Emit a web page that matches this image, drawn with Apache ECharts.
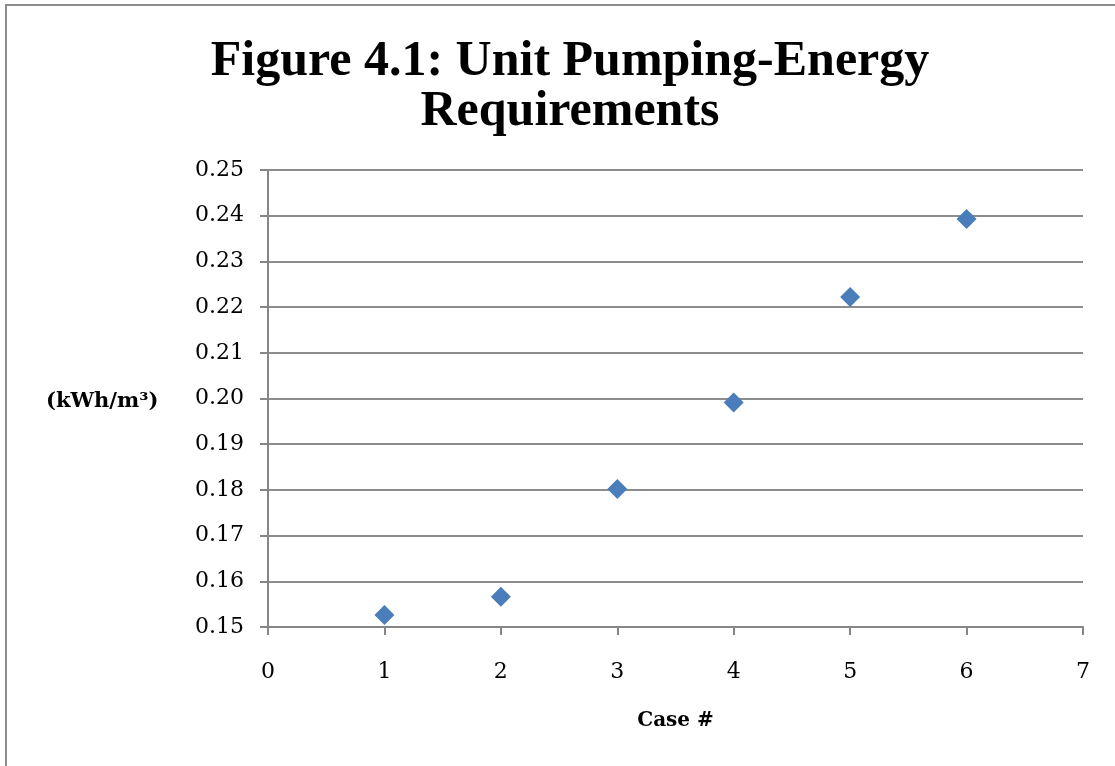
<!DOCTYPE html>
<html>
<head>
<meta charset="utf-8">
<script src="https://cdn.jsdelivr.net/npm/echarts@6/dist/echarts.min.js"></script>
<style>
  html, body { margin: 0; padding: 0; background: #fff; }
  #chart { width: 1115px; height: 766px; }
</style>
</head>
<body>
<div id="chart"></div>
<script>
// case numbers and unit pumping energy (kWh/m3)
var cases = [1, 2, 3, 4, 5, 6]
var energy = [0.1526, 0.1566, 0.1802, 0.1991, 0.2222, 0.2393]

var serif = '"DejaVu Serif", "Liberation Serif", serif'
var titleFont = '"Liberation Serif", "DejaVu Serif", serif'

var myChart = echarts.init(document.getElementById('chart'))
myChart.setOption({
  backgroundColor: '#fff',
  animation: false,
  graphic: [{
    type: 'rect',
    shape: { x: 6, y: 5, width: 1200, height: 900 },
    style: { fill: 'none', stroke: '#8c8c8c', lineWidth: 2 }
  }, {
    type: 'text',
    left: 46,
    top: 391,
    style: { text: '(kWh/m³)', font: 'bold 21px ' + serif, fill: '#000' }
  }],
  title: {
    text: 'Figure 4.1: Unit Pumping-Energy\nRequirements',
    left: 565,
    textAlign: 'center',
    top: 32,
    textStyle: { fontFamily: titleFont, fontWeight: 'bold', fontSize: 50, lineHeight: 50, color: '#000' }
  },
  grid: { left: 268, right: 32, top: 170, bottom: 139 },
  xAxis: {
    type: 'value',
    min: 0,
    max: 7,
    interval: 1,
    name: 'Case #',
    nameLocation: 'middle',
    nameGap: 84,
    nameTextStyle: { fontFamily: serif, fontWeight: 'bold', fontSize: 20, color: '#000' },
    axisLine: { show: true, lineStyle: { color: '#868686', width: 2 } },
    axisTick: { show: true, length: 8, lineStyle: { color: '#868686', width: 2 } },
    axisLabel: { fontFamily: serif, fontSize: 22, color: '#000', margin: 34 },
    splitLine: { show: false }
  },
  yAxis: {
    type: 'value',
    min: 0.15,
    max: 0.25,
    interval: 0.01,
    axisLine: { show: true, lineStyle: { color: '#868686', width: 2 } },
    axisTick: { show: true, length: 8, lineStyle: { color: '#868686', width: 2 } },
    axisLabel: {
      fontFamily: serif, fontSize: 22, color: '#000', margin: 24,
      formatter: function (v) { return v.toFixed(2) }
    },
    splitLine: { show: true, lineStyle: { color: '#8c8c8c', width: 2 } }
  },
  series: [{
    type: 'scatter',
    symbol: 'diamond',
    symbolSize: [20, 20],
    itemStyle: { color: '#4a7ebb', opacity: 1 },
    data: cases.map(function (c, i) { return [c, energy[i]] })
  }]
})
</script>
</body>
</html>
